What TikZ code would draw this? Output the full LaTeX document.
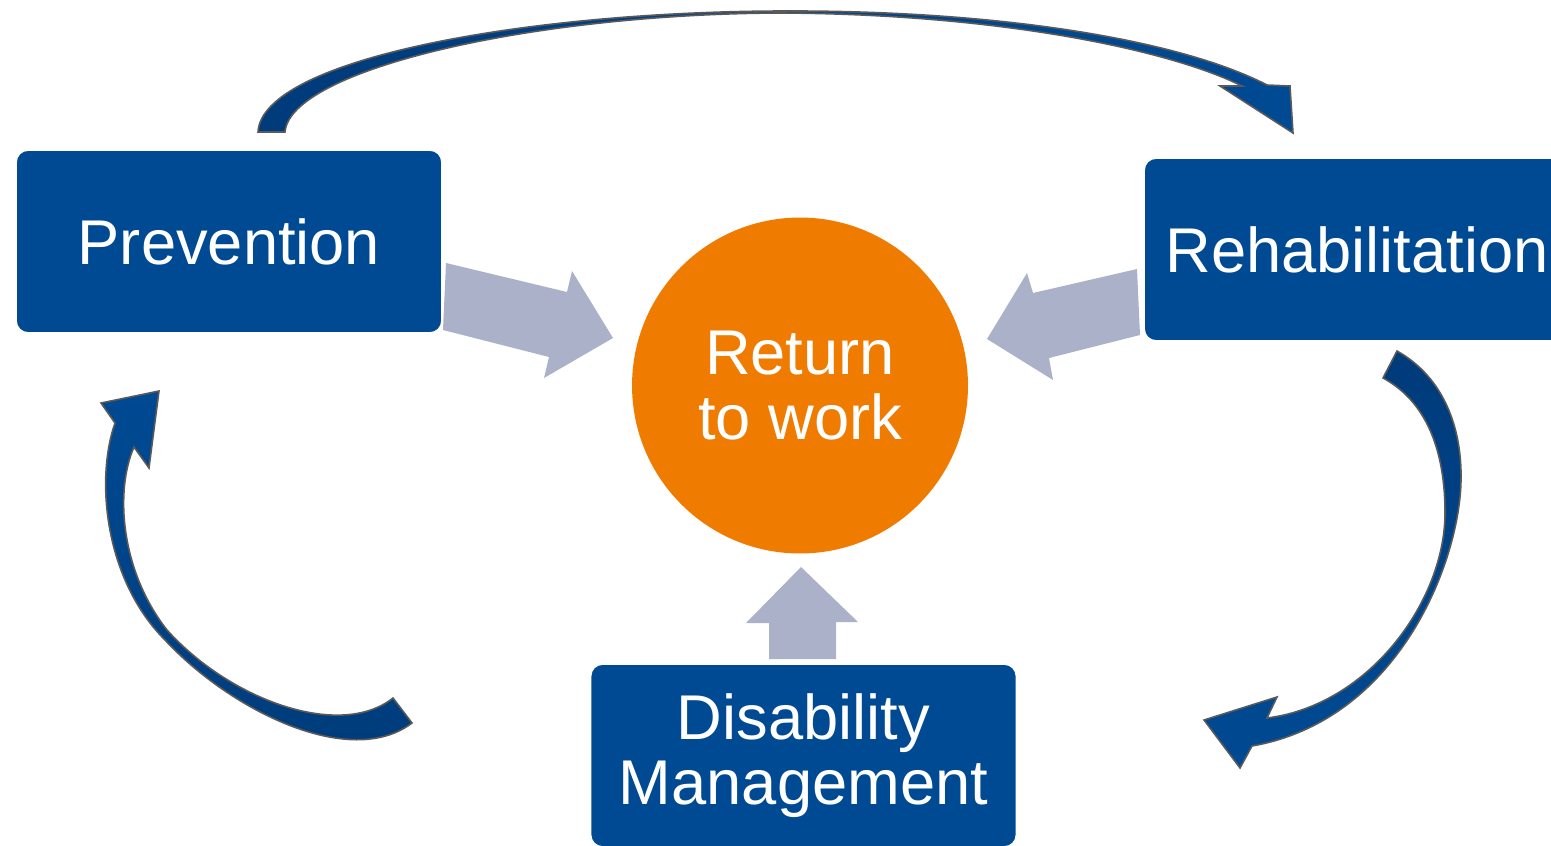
\documentclass[tikz,border=0pt]{standalone}
\usepackage{fontspec}
\setmainfont{Liberation Sans}

\definecolor{boxblue}{HTML}{004A93}
\definecolor{arcdark}{HTML}{003B7A}
\definecolor{arcedge}{HTML}{5A5A5A}
\definecolor{goalorange}{HTML}{EF7B00}
\definecolor{feedgray}{HTML}{ACB1CA}

\tikzset{
  stage/.style={fill=boxblue, draw=white, line width=1pt, text=white,
    rounded corners=0.24cm, minimum width=8.52cm, minimum height=3.66cm,
    inner sep=0pt, align=center, font=\fontsize{36}{37}\selectfont},
  goal/.style={circle, fill=goalorange, text=white, minimum size=6.72cm,
    inner sep=0pt, align=center, font=\fontsize{36}{37}\selectfont},
  feed/.style={fill=feedgray},
  cyclearrow/.style={draw=arcedge, line width=0.9pt, line join=miter}
}

\begin{document}
\begin{tikzpicture}[x=0.02cm, y=-0.02cm]
\useasboundingbox (0,0) rectangle (1551,845);
\clip (0,0) rectangle (1551,845);

% block arrows into the centre
\fill[feed] (446,263) -- (567,292) -- (572,271) -- (613,338)
        -- (544,378) -- (549,357) -- (443,330) -- cycle;
\fill[feed] (1137,269) -- (1033,293) -- (1027,273) -- (987,339)
        -- (1053,380) -- (1049,358) -- (1140,335) -- cycle;
\fill[feed] (801,567) -- (858,622) -- (836,622) -- (836,659)
        -- (769,659) -- (769,623) -- (746,623) -- cycle;

\node[stage] (prev) at (229,241.5) {Prevention};
\node[stage] (rehab) at (1357,249.5) {Rehabilitation};
\node[stage] (dm) at (803.5,755.5) {Disability\\Management};
\node[goal] (rtw) at (800,385.5) {Return\\to work};

% curved arrows round the cycle
\shadedraw[cyclearrow, left color=arcdark, right color=boxblue]
  (258,132) .. controls (262,60) and (520,12) .. (780,11)
  .. controls (1000,10) and (1180,40) .. (1267,85)
  -- (1290,86) -- (1293,133) -- (1220,86) -- (1242,86)
  .. controls (1170,50) and (1000,14) .. (780,13)
  .. controls (530,14) and (290,70) .. (285,132) -- cycle;

\shadedraw[cyclearrow, top color=arcdark, bottom color=boxblue]
  (1397,351) .. controls (1445,378) and (1462,430) .. (1461,480)
  .. controls (1460,560) and (1400,720) .. (1252,746)
  -- (1240,768) -- (1204,720) -- (1277,697) -- (1267,718)
  .. controls (1370,705) and (1445,600) .. (1445,513)
  .. controls (1445,440) and (1420,398) .. (1383,378) -- cycle;

\shadedraw[cyclearrow, top color=boxblue, bottom color=arcdark]
  (412,723) -- (393,698)
  .. controls (340,740) and (230,700) .. (167,630)
  .. controls (120,570) and (115,490) .. (134,447)
  -- (149,468) -- (159,391) -- (101,403) -- (115,423)
  .. controls (95,480) and (105,580) .. (165,640)
  .. controls (230,710) and (350,770) .. (412,723) -- cycle;
\end{tikzpicture}
\end{document}
